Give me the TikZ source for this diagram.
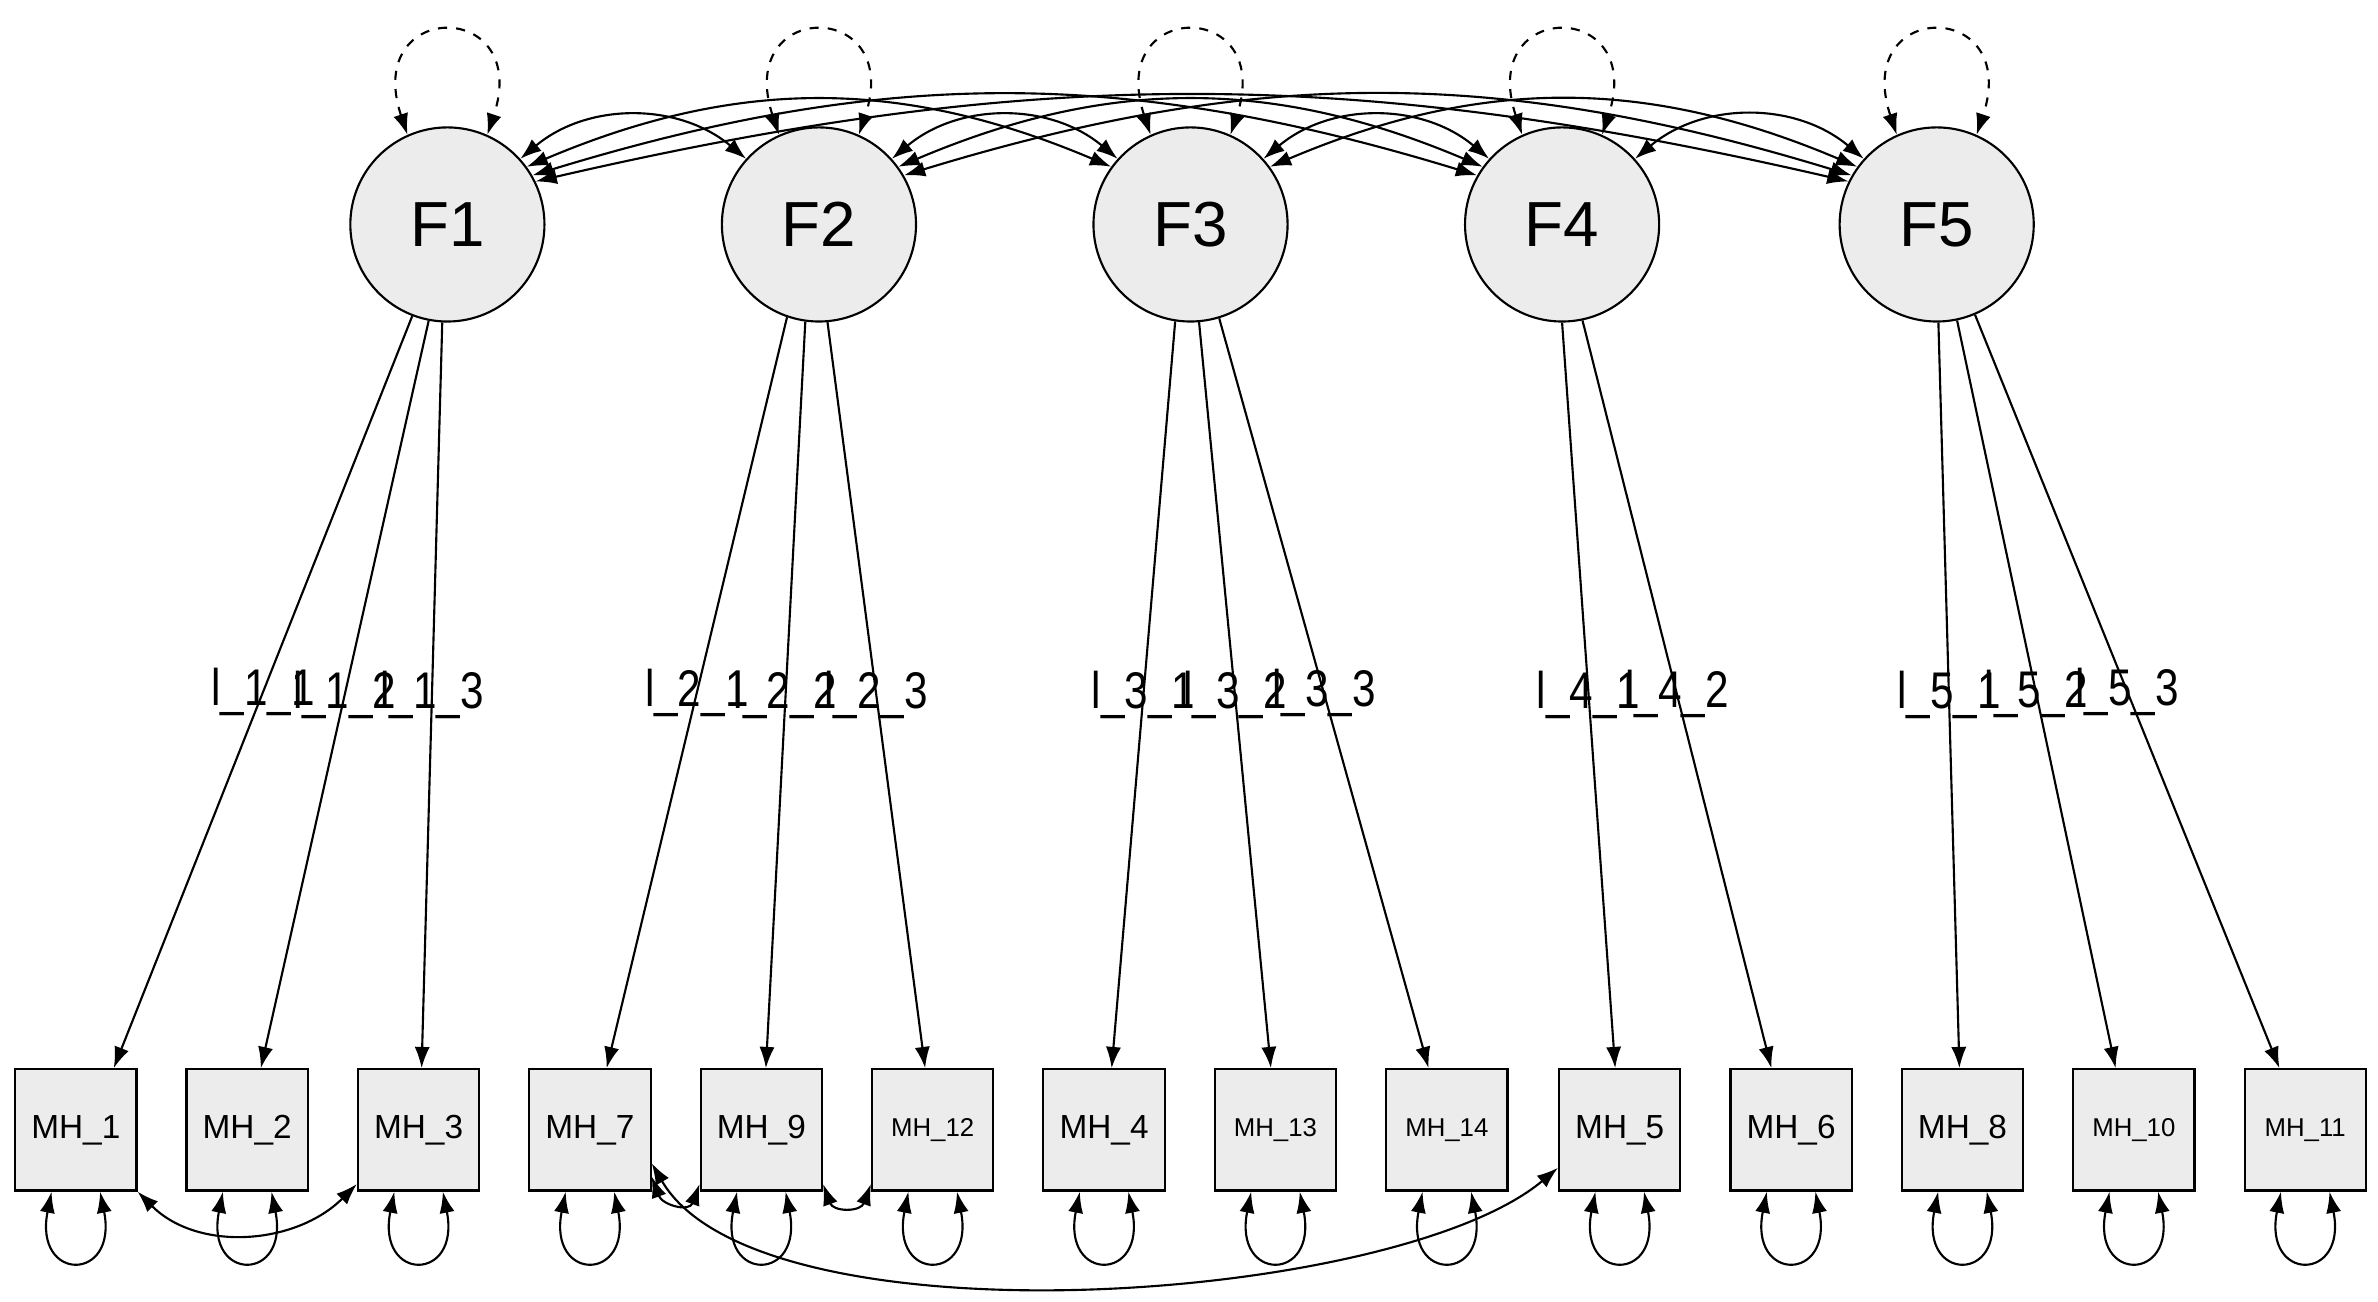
\documentclass[tikz,border=0pt]{standalone}
\usepackage{fontspec}
\setmainfont{Liberation Sans}
\usetikzlibrary{arrows.meta,calc}
\begin{document}
\begin{tikzpicture}[x=0.5pt,y=0.5pt,line width=0.7pt,
  lat/.style={circle,draw,fill=gray!15,minimum size=64pt,inner sep=0pt,font=\fontsize{21}{21}\selectfont},
  obs/.style={rectangle,draw,fill=gray!15,minimum size=40pt,inner sep=0pt,font=\fontsize{11}{11}\selectfont},
  obss/.style={obs,font=\fontsize{8.5}{8.5}\selectfont},
  ar/.style={-{Latex[length=7pt,width=5pt]}},
  dar/.style={{Latex[length=7pt,width=5pt]}-{Latex[length=7pt,width=5pt]}},
  lab/.style={midway,inner sep=0pt,font=\fontsize{17}{17}\selectfont,xscale=0.82}]
\useasboundingbox (0,0) rectangle (1568,-858);
% latent
\foreach \i/\x in {1/295,2/540,3/785,4/1030,5/1277}
  \node[lat] (F\i) at (\x,-148) {F\i};
% observed
\foreach \n/\x/\s in {1/50/obs,2/163/obs,3/276/obs,7/389/obs,9/502/obs,12/615/obss,4/728/obs,13/841/obss,14/954/obss,5/1068/obs,6/1181/obs,8/1294/obs,10/1407/obss,11/1520/obss}
  \node[\s] (M\n) at (\x,-745) {MH\_\n};
% dashed self loops
\foreach \i in {1,...,5}
  \draw[dar,dashed] (F\i.114) .. controls +(-30,90) and +(30,90) .. (F\i.66);
% box self loops
\foreach \n in {1,2,3,7,9,12,4,13,14,5,6,8,10,11}
  \draw[dar] ($(M\n.south)+(-16,0)$) .. controls +(-12,-60) and +(12,-60) .. ($(M\n.south)+(16,0)$);
% loadings
\draw[ar] (F1.-111) -- node[lab]{l\_1\_1} ($(M1.north)+(25,0)$);
\draw[ar] (F1.-101) -- node[lab]{l\_1\_2} ($(M2.north)+(9,0)$);
\draw[ar] (F1.-93) -- node[lab]{l\_1\_3} ($(M3.north)+(2,0)$);
\draw[ar] (F2.-109) -- node[lab]{l\_2\_1} ($(M7.north)+(11,0)$);
\draw[ar] (F2.-98) -- node[lab]{l\_2\_2} ($(M9.north)+(3,0)$);
\draw[ar] (F2.-85) -- node[lab]{l\_2\_3} ($(M12.north)+(-5,0)$);
\draw[ar] (F3.-99) -- node[lab]{l\_3\_1} ($(M4.north)+(5,0)$);
\draw[ar] (F3.-85) -- node[lab]{l\_3\_2} ($(M13.north)+(-3,0)$);
\draw[ar] (F3.-73) -- node[lab]{l\_3\_3} ($(M14.north)+(-12,0)$);
\draw[ar] (F4.-90) -- node[lab]{l\_4\_1} ($(M5.north)+(-3,0)$);
\draw[ar] (F4.-78) -- node[lab]{l\_4\_2} ($(M6.north)+(-13,0)$);
\draw[ar] (F5.-89) -- node[lab]{l\_5\_1} ($(M8.north)+(-2,0)$);
\draw[ar] (F5.-78) -- node[lab]{l\_5\_2} ($(M10.north)+(-12,0)$);
\draw[ar] (F5.-67) -- node[lab]{l\_5\_3} ($(M11.north)+(-17,0)$);
% factor covariances
\foreach \a/\b in {1/2,2/3,3/4,4/5}
  \draw[dar] (F\a.42) to[bend left=40] (F\b.138);
\foreach \a/\b in {1/3,2/4,3/5}
  \draw[dar] (F\a.36) to[bend left=23] (F\b.144);
\foreach \a/\b in {1/4,2/5}
  \draw[dar] (F\a.30) to[bend left=17] (F\b.150);
\draw[dar] (F1.26) to[bend left=13] (F5.154);
% residual covariances
\draw[dar] (M1.south east) to[out=-45,in=-135] ($(M3.south west)+(0,5)$);
\draw[dar] ($(M7.south east)+(0,10)$) to[out=-70,in=-110,looseness=1.6] ($(M9.south west)+(0,5)$);
\draw[dar] ($(M9.south east)+(0,5)$) to[out=-70,in=-110,looseness=1.6] ($(M12.south west)+(0,5)$);
\draw[dar] ($(M7.east)+(0,-22)$) to[out=-60,in=-140,looseness=0.6] ($(M5.west)+(0,-25)$);
\end{tikzpicture}
\end{document}
